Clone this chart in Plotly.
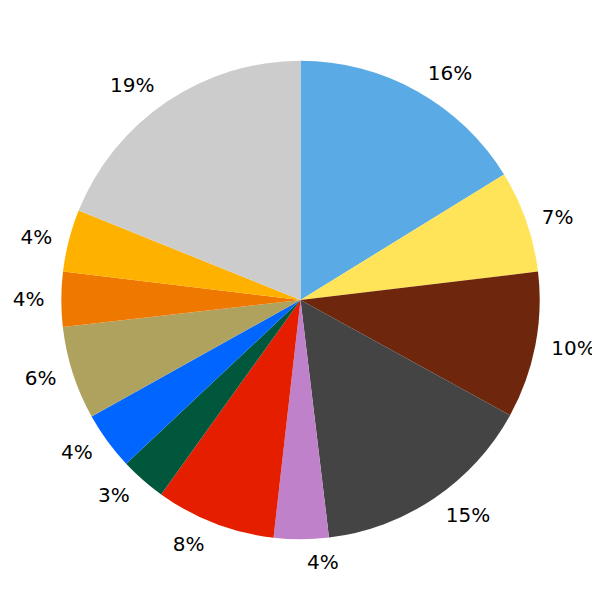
import plotly.graph_objects as go

labels = ["A", "B", "C", "D", "E", "F", "G", "H", "I", "J", "K", "L"]
values = [16.2, 6.9, 9.9, 15.1, 3.7, 8.1, 3.1, 3.9, 6.3, 3.7, 4.2, 18.9]
colors = ["#5aaae5", "#ffe45a", "#6e270c", "#444444", "#bf81c9", "#e51e00",
          "#00573c", "#0066ff", "#afa25f", "#ef7800", "#ffb100", "#cccccc"]

# visible pie (no text)
fig = go.Figure(go.Pie(
    labels=labels,
    values=values,
    sort=False,
    direction="clockwise",
    rotation=0,
    marker=dict(colors=colors, line=dict(width=0)),
    textinfo="none",
    textposition="none",
    showlegend=False,
    hoverinfo="skip",
    domain=dict(x=[0.0858, 0.8858], y=[0.1133, 0.9133]),
))
# transparent, slightly larger pie carrying the outside percentage labels
fig.add_trace(go.Pie(
    labels=labels,
    values=values,
    sort=False,
    direction="clockwise",
    rotation=0,
    marker=dict(colors=["rgba(0,0,0,0)"] * len(values), line=dict(width=0)),
    texttemplate="%{percent:.0%}",
    textposition="outside",
    textfont=dict(family="DejaVu Sans", size=20, color="#000000"),
    showlegend=False,
    domain=dict(x=[0.0677, 0.9027], y=[0.0955, 0.9305]),
))
fig.update_layout(
    width=600, height=600,
    margin=dict(l=0, r=0, t=0, b=0),
    paper_bgcolor="white",
    plot_bgcolor="white",
)
fig.write_html("out.html")
